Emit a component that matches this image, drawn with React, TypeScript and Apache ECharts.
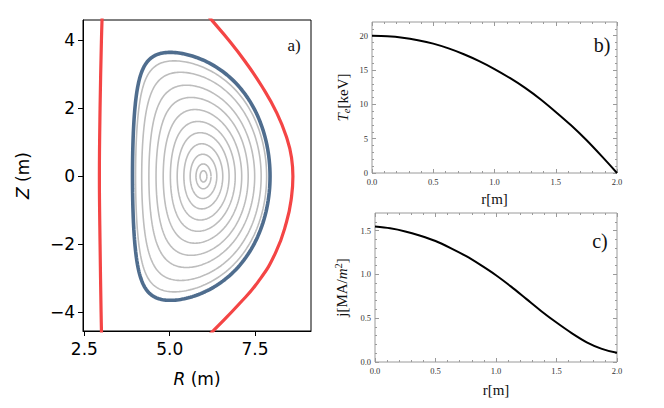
import React, { useEffect, useRef } from "react";
import * as echarts from "echarts";

// ---------- Panel a) : flux surfaces (shape parameters read from the picture) ----------
// gray nested surfaces, innermost first
const surfR0 = [5.99, 5.99, 5.99, 5.985, 5.98, 5.97, 5.96, 5.95, 5.94, 5.93, 5.92];
const surfA = [0.1, 0.22, 0.39, 0.57, 0.76, 0.95, 1.15, 1.35, 1.55, 1.75, 1.92];
const surfKappa = [1.65, 1.66, 1.67, 1.68, 1.69, 1.7, 1.71, 1.72, 1.73, 1.75, 1.77];
const surfDelta = [0.01, 0.03, 0.05, 0.08, 0.11, 0.15, 0.19, 0.24, 0.29, 0.35, 0.41];
const surfSquare = [0, 0, 0, 0.01, 0.02, 0.03, 0.04, 0.06, 0.07, 0.09, 0.11];
// last closed flux surface (blue): R0, a, kappa, delta, squareness
const lcfsShape = [5.925, 2.015, 1.81, 0.45, 0.12];
// red contours
const sepLeftR = [3.03, 3.0, 2.96, 2.94, 2.96, 2.99, 3.01];
const sepLeftZ = [5.0, 4.0, 2.0, 0.0, -2.0, -4.0, -5.0];
const sepRightR = [5.72, 6.22, 6.72, 7.21, 7.7, 8.14, 8.44, 8.57, 8.61, 8.57, 8.42, 8.1, 7.6, 7.02, 6.28, 5.65];
const sepRightZ = [5.2, 4.61, 4.02, 3.38, 2.65, 1.86, 1.1, 0.55, 0.0, -0.6, -1.35, -2.25, -3.09, -3.77, -4.54, -5.2];
const bigRTicks = [2.5, 5.0, 7.5];
const zTicks = [-4, -2, 0, 2, 4];

// ---------- Panel b) : electron temperature ----------
const rGrid = [0, 0.125, 0.25, 0.375, 0.5, 0.625, 0.75, 0.875, 1.0, 1.125, 1.25, 1.375, 1.5, 1.625, 1.75, 1.875, 2.0];
const teValues = [20, 19.93, 19.72, 19.35, 18.85, 18.15, 17.3, 16.3, 15.15, 13.85, 12.4, 10.75, 8.9, 6.95, 4.8, 2.45, 0];
const teTicks = [0, 5, 10, 15, 20];
const teMinor = [1, 2, 3, 4, 6, 7, 8, 9, 11, 12, 13, 14, 16, 17, 18, 19, 21];

// ---------- Panel c) : current density ----------
const jValues = [1.545, 1.525, 1.49, 1.44, 1.38, 1.3, 1.21, 1.105, 0.99, 0.86, 0.72, 0.58, 0.45, 0.33, 0.225, 0.15, 0.105];
const jTicks = [0, 0.5, 1.0, 1.5];
const jMinor = [0.1, 0.2, 0.3, 0.4, 0.6, 0.7, 0.8, 0.9, 1.1, 1.2, 1.3, 1.4, 1.6];

function surface(R0: number, a: number, k: number, d: number, sq: number) {
  const pts: number[][] = [];
  const n = 240;
  const dd = Math.asin(d);
  for (let i = 0; i <= n; i++) {
    const th = (2 * Math.PI * i) / n;
    pts.push([R0 + a * Math.cos(th + dd * Math.sin(th)), k * a * Math.sin(th + sq * Math.sin(2 * th))]);
  }
  return pts;
}

const SERIF = '"Liberation Serif", "DejaVu Serif", serif';
const SANS = '"DejaVu Sans", sans-serif';
const FRAME = "#9a9a9a";

export default function App() {
  const ref = useRef<HTMLDivElement>(null);
  useEffect(() => {
    if (!ref.current) return;
    const chart = echarts.init(ref.current, undefined, { renderer: "svg" });

    const series: any[] = [];
    for (let i = 0; i < surfA.length; i++) {
      series.push({
        type: "line", xAxisIndex: 0, yAxisIndex: 0, showSymbol: false, symbol: "none", silent: true,
        data: surface(surfR0[i], surfA[i], surfKappa[i], surfDelta[i], surfSquare[i]),
        lineStyle: { color: "#bdbdbd", width: 1.6 }, z: 2,
      });
    }
    series.push({
      type: "line", xAxisIndex: 0, yAxisIndex: 0, showSymbol: false, symbol: "none", silent: true,
      data: surface(lcfsShape[0], lcfsShape[1], lcfsShape[2], lcfsShape[3], lcfsShape[4]),
      lineStyle: { color: "#4f6d8e", width: 3.6 }, z: 3,
    });
    series.push({
      type: "line", xAxisIndex: 0, yAxisIndex: 0, showSymbol: false, symbol: "none", silent: true,
      smooth: 0.4,
      data: sepLeftR.map((r, i) => [r, sepLeftZ[i]]),
      lineStyle: { color: "#f44545", width: 3.2 }, z: 4,
    });
    series.push({
      type: "line", xAxisIndex: 0, yAxisIndex: 0, showSymbol: false, symbol: "none", silent: true,
      smooth: 0.5,
      data: sepRightR.map((r, i) => [r, sepRightZ[i]]),
      lineStyle: { color: "#f44545", width: 3.2 }, z: 4,
    });
    series.push({
      type: "line", xAxisIndex: 1, yAxisIndex: 1, showSymbol: false, symbol: "none", silent: true,
      smooth: 0.3,
      data: rGrid.map((r, i) => [r, teValues[i]]),
      lineStyle: { color: "#000", width: 2 },
    });
    series.push({
      type: "line", xAxisIndex: 3, yAxisIndex: 5, showSymbol: false, symbol: "none", silent: true,
      smooth: 0.3,
      data: rGrid.map((r, i) => [r, jValues[i]]),
      lineStyle: { color: "#000", width: 2 },
    });

    const tickLabel = { fontFamily: SERIF, fontSize: 8.5, color: "#333" };

    const rAxis = (grid: number, pos: string, labels: boolean, name?: string, gap?: number) => ({
      type: "value", gridIndex: grid, position: pos, min: 0, max: 2, interval: 0.5,
      axisLine: { show: false, onZero: false },
      axisTick: { show: true, inside: true, length: 4, lineStyle: { color: FRAME } },
      minorTick: { show: true, splitNumber: 5, length: 2, lineStyle: { color: FRAME } },
      axisLabel: labels ? { ...tickLabel, margin: 4, formatter: (v: number) => v.toFixed(1) } : { show: false },
      splitLine: { show: false },
      name: name || "", nameLocation: "middle", nameGap: gap || 0,
      nameTextStyle: { fontFamily: SERIF, fontSize: 15, color: "#111" },
    });

    const vAxis = (grid: number, pos: string, max: number, ticks: number[], len: number, labels: boolean, fmt?: (v: number) => string, extra?: any) => ({
      type: "value", gridIndex: grid, position: pos, min: 0, max,
      axisLine: { show: false, onZero: false },
      axisTick: { show: true, inside: true, length: len, customValues: ticks, lineStyle: { color: FRAME } },
      axisLabel: labels ? { ...tickLabel, margin: 4, customValues: ticks, formatter: fmt } : { show: false },
      splitLine: { show: false },
      ...(extra || {}),
    });

    const option: any = {
      animation: false,
      backgroundColor: "#fff",
      grid: [
        { left: 83, top: 20, width: 228, height: 311, show: true, borderColor: "#000", borderWidth: 1 },
        { left: 372, top: 22, width: 245, height: 151, show: true, borderColor: FRAME, borderWidth: 1 },
        { left: 375, top: 213, width: 242, height: 149, show: true, borderColor: FRAME, borderWidth: 1 },
      ],
      xAxis: [
        {
          type: "value", gridIndex: 0, position: "bottom", min: 2.46, max: 9.14,
          axisLine: { show: true, onZero: false, lineStyle: { color: "#000", width: 1 } },
          axisTick: { show: true, inside: false, length: 5, customValues: bigRTicks, lineStyle: { color: "#000" } },
          axisLabel: { customValues: bigRTicks, formatter: (v: number) => v.toFixed(1), fontFamily: SANS, fontSize: 17, color: "#000", margin: 9 },
          splitLine: { show: false },
          name: "{it|R} (m)", nameLocation: "middle", nameGap: 39,
          nameTextStyle: { fontFamily: SANS, fontSize: 17, color: "#000", rich: { it: { fontFamily: SANS, fontSize: 17, fontStyle: "italic", color: "#000" } } },
        },
        rAxis(1, "bottom", true, "r[m]", 18),
        rAxis(1, "top", false),
        rAxis(2, "bottom", true, "r[m]", 20),
        rAxis(2, "top", false),
      ],
      yAxis: [
        {
          type: "value", gridIndex: 0, position: "left", min: -4.55, max: 4.6,
          axisLine: { show: true, onZero: false, lineStyle: { color: "#000", width: 1 } },
          axisTick: { show: true, inside: false, length: 5, customValues: zTicks, lineStyle: { color: "#000" } },
          axisLabel: { customValues: zTicks, formatter: (v: number) => (v < 0 ? "\u2212" : "") + Math.abs(v), fontFamily: SANS, fontSize: 17, color: "#000", margin: 8 },
          splitLine: { show: false },
          name: "{it|Z} (m)", nameLocation: "middle", nameGap: 52,
          nameTextStyle: { fontFamily: SANS, fontSize: 17, color: "#000", rich: { it: { fontFamily: SANS, fontSize: 17, fontStyle: "italic", color: "#000" } } },
        },
        vAxis(1, "left", 22, teTicks, 4, true, (v: number) => String(v), {
          name: "{it|T}{sub|e}{n|[keV]}", nameLocation: "middle", nameGap: 20,
          nameTextStyle: {
            fontFamily: SERIF, fontSize: 15, color: "#111",
            rich: {
              it: { fontFamily: SERIF, fontSize: 15, fontStyle: "italic", lineHeight: 18, color: "#111" },
              sub: { fontFamily: SERIF, fontSize: 10.5, fontStyle: "italic", lineHeight: 10, verticalAlign: "bottom", color: "#111" },
              n: { fontFamily: SERIF, fontSize: 15, lineHeight: 18, color: "#111" },
            },
          },
        }),
        vAxis(1, "left", 22, teMinor, 2, false),
        vAxis(1, "right", 22, teTicks, 4, false),
        vAxis(1, "right", 22, teMinor, 2, false),
        vAxis(2, "left", 1.7, jTicks, 4, true, (v: number) => v.toFixed(1), {
          name: "{n|j[MA/}{it|m}{sup|2}{n|]}", nameLocation: "middle", nameGap: 24,
          nameTextStyle: {
            fontFamily: SERIF, fontSize: 15, color: "#111",
            rich: {
              it: { fontFamily: SERIF, fontSize: 15, fontStyle: "italic", lineHeight: 18, color: "#111" },
              sup: { fontFamily: SERIF, fontSize: 10.5, lineHeight: 10, verticalAlign: "top", color: "#111" },
              n: { fontFamily: SERIF, fontSize: 15, lineHeight: 18, color: "#111" },
            },
          },
        }),
        vAxis(2, "left", 1.7, jMinor, 2, false),
        vAxis(2, "right", 1.7, jTicks, 4, false),
        vAxis(2, "right", 1.7, jMinor, 2, false),
      ],
      graphic: [
        { type: "text", x: 294, y: 45, style: { text: "a)", fontFamily: SERIF, fontSize: 17, fill: "#111", align: "center", verticalAlign: "middle" } },
        { type: "text", x: 602, y: 45, style: { text: "b)", fontFamily: SERIF, fontSize: 20, fill: "#111", align: "center", verticalAlign: "middle" } },
        { type: "text", x: 600, y: 241, style: { text: "c)", fontFamily: SERIF, fontSize: 20, fill: "#111", align: "center", verticalAlign: "middle" } },
      ],
      series,
    };
    chart.setOption(option);
    return () => chart.dispose();
  }, []);
  return <div ref={ref} style={{ position: "fixed", left: 0, top: 0, width: 664, height: 408, background: "#fff" }} />;
}
